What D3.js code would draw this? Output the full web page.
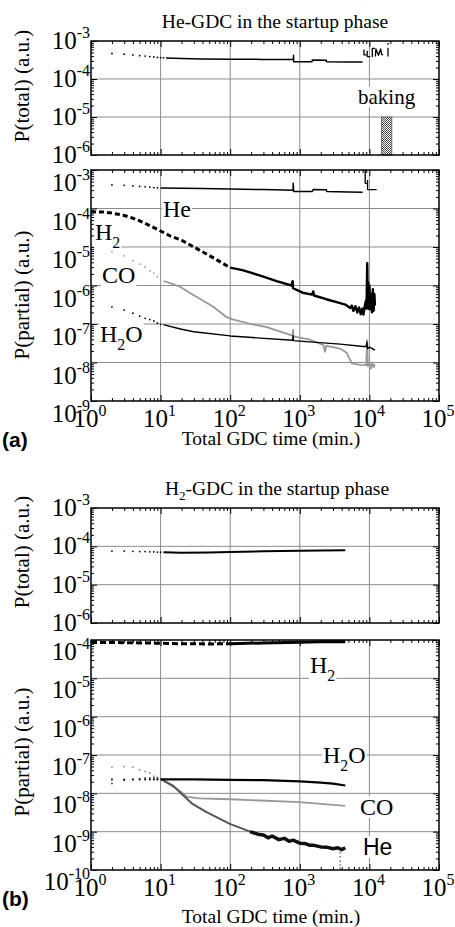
<!DOCTYPE html>
<html>
<head>
<meta charset="utf-8">
<script src="https://cdn.jsdelivr.net/npm/d3@7"></script>
<style>
body{margin:0;background:#fff}
svg{display:block}
</style>
</head>
<body>
<script>
// ---- data (time in min., pressure in a.u.) ----
var xTicks = [1e0, 1e1, 1e2, 1e3, 1e4, 1e5];
var yTicksTotal = [1e-6, 1e-5, 1e-4, 1e-3];
var yTicksA = [1e-9, 1e-8, 1e-7, 1e-6, 1e-5, 1e-4, 1e-3];
var yTicksB = [1e-10, 1e-9, 1e-8, 1e-7, 1e-6, 1e-5, 1e-4];

// (a) He-GDC, total
var aTotalDots = [[2,4.7e-4],[3,4.5e-4],[4,4.3e-4],[5,4.1e-4],[6,4.0e-4],[7,3.9e-4],[8,3.8e-4],[9,3.7e-4],[10,3.65e-4],[11,3.6e-4]];
var aTotalLine = [[12,3.55e-4],[20,3.45e-4],[40,3.35e-4],[100,3.3e-4],[300,3.28e-4],[810,3.25e-4],[812,4.2e-4],[818,2.85e-4],[1500,2.85e-4],[1510,3.15e-4],[2400,3.1e-4],[2410,2.85e-4],[5000,2.8e-4],[8000,2.8e-4]];
var aTotalBursts = [
  [[8360,6.0e-4],[8360,4.3e-4],[9100,4.3e-4]],
  [[9300,5.5e-4],[9300,3.9e-4],[10300,3.9e-4]],
  [[11200,3.9e-4],[11000,3.9e-4],[11000,6.4e-4],[12000,6.4e-4]],
  [[12200,3.9e-4],[12400,6.2e-4],[13500,4.2e-4],[14500,6.2e-4],[15000,4.4e-4],[15700,4.4e-4]],
  [[18500,6.6e-4],[18500,3.9e-4]],
  [[18500,8.8e-4],[18500,8.0e-4]]
];
var baking = [15000, 21000];

// (a) He-GDC, partial
var aHeDots = [[2,4.1e-4],[3,4.0e-4],[4,3.85e-4],[5,3.75e-4],[6,3.65e-4],[7,3.6e-4],[8,3.5e-4],[9,3.45e-4]];
var aHeLine = [[10,3.4e-4],[40,3.3e-4],[100,3.2e-4],[300,3.1e-4],[800,3.0e-4],[805,4.5e-4],[815,2.75e-4],[1500,2.75e-4],[1560,3.1e-4],[2400,3.05e-4],[2450,2.75e-4],[5000,2.7e-4],[8000,2.65e-4]];
var aHeBursts = [
  [[8700,1.0e-3],[8700,4.5e-4],[9400,4.5e-4]],
  [[9400,5.5e-4],[9400,3.1e-4],[12700,3.1e-4]]
];
var aH2 = [[1,8.2e-5],[1.5,8.1e-5],[2,7.6e-5],[3,6.6e-5],[4,5.6e-5],[5,4.8e-5],[7,3.6e-5],[10,2.6e-5],[14,1.9e-5],[20,1.5e-5],[30,1.0e-5],[40,7.5e-6],[60,5.0e-6],[100,2.9e-6],
  [150,2.5e-6],[270,1.8e-6],[465,1.3e-6],[760,1.0e-6],[790,1.3e-6],[800,8.5e-7],[1100,6.5e-7],[1500,5.8e-7],[1560,7.0e-7],[1600,5.5e-7],[2400,4.4e-7],[3800,3.5e-7],[4500,3.2e-7],[5300,2.6e-7],
  [5600,3.0e-7],[5900,2.2e-7],[6300,2.9e-7],[6700,2.0e-7],[7100,2.7e-7],[7500,1.8e-7],[7900,2.5e-7],[8200,1.75e-7],[8600,3.0e-7],[8900,4.0e-7],[9100,2.5e-7],[9300,3.8e-6],[9450,5.0e-7],
  [9600,1.2e-6],[9800,2.5e-7],[10000,1.0e-6],[10300,2.4e-7],[10600,6.0e-7],[10900,2.0e-7],[11200,8.0e-7],[11500,2.2e-7],[11800,6.0e-7],[12000,3.0e-7]];
var aCODots = [[2,7.6e-6],[3,5.9e-6],[4,4.4e-6],[5,3.6e-6],[6,3.0e-6],[7,2.4e-6],[8,2.1e-6],[9,1.7e-6],[10,1.4e-6]];
var aCOLine = [[11,1.3e-6],[12,1.25e-6],[19,9.3e-7],[30,5.6e-7],[57,2.8e-7],[89,1.5e-7],[111,1.3e-7],[200,1.0e-7],[335,8.3e-8],[790,5.0e-8],[800,7.0e-8],[810,4.8e-8],[1400,3.9e-8],
  [2200,2.8e-8],[2300,1.9e-8],[2400,2.7e-8],[3800,2.3e-8],[4700,1.8e-8],[5600,9.5e-9],[7300,8.7e-9],[9000,8.5e-9],[9300,3.8e-8],[9500,8.0e-9],[10000,1.0e-8],[10500,7.0e-9],[11000,1.0e-8],[11500,7.5e-9],[12000,9.0e-9]];
var aH2ODots = [[2,2.8e-7],[3,2.3e-7],[4,1.9e-7],[5,1.6e-7],[6,1.4e-7],[7,1.3e-7],[8,1.2e-7],[9,1.05e-7],[10,9.8e-8]];
var aH2OLine = [[11,9.6e-8],[12,9.2e-8],[20,7.3e-8],[30,6.3e-8],[100,4.9e-8],[270,4.3e-8],[790,3.8e-8],[800,5.0e-8],[810,3.7e-8],[1000,3.6e-8],[3800,3.0e-8],[8200,2.6e-8],[9000,2.6e-8],[9200,3.4e-8],[9400,2.3e-8],[10000,2.5e-8],[11000,2.3e-8],[12000,2.1e-8]];

// (b) H2-GDC, total
var bTotalDots = [[2,7.5e-5],[3,7.5e-5],[4,7.4e-5],[5,7.3e-5],[6,7.3e-5],[7,7.2e-5],[8,7.2e-5],[9,7.1e-5],[10,7.0e-5]];
var bTotalLine = [[11,7.0e-5],[20,6.8e-5],[50,6.9e-5],[100,7.1e-5],[300,7.4e-5],[1000,7.7e-5],[2000,7.8e-5],[4500,7.9e-5]];

// (b) H2-GDC, partial
var bH2 = [[1,8.6e-5],[2,8.6e-5],[5,8.4e-5],[10,8.2e-5],[20,8.0e-5],[50,7.9e-5],[100,8.0e-5],[300,8.4e-5],[1000,8.8e-5],[2000,9.0e-5],[4500,9.0e-5]];
var bH2ODots = [[2,2.3e-8],[3,2.3e-8],[4,2.3e-8],[5,2.3e-8],[6,2.3e-8],[7,2.3e-8],[8,2.3e-8],[9,2.3e-8]];
var bH2OLine = [[10,2.3e-8],[30,2.3e-8],[100,2.25e-8],[300,2.2e-8],[1000,2.05e-8],[2000,1.9e-8],[3000,1.8e-8],[4500,1.6e-8]];
var bCODots = [[2,4.8e-8],[3,5.0e-8],[4,4.8e-8],[5,4.1e-8],[6,3.7e-8],[7,3.4e-8],[8,2.8e-8],[9,2.6e-8],[10,2.3e-8]];
var bCOLine = [[11,2.1e-8],[15,1.5e-8],[19.6,1.1e-8],[24,8.1e-9],[36,7.4e-9],[100,7.0e-9],[1000,5.9e-9],[4500,4.7e-9]];
var bHeDots = [[2,1.8e-8],[3,2.2e-8],[4,2.3e-8],[5,2.4e-8],[6,2.5e-8],[7,2.5e-8],[8,2.5e-8],[9,2.5e-8]];
var bHeLine = [[10,2.4e-8],[15,1.6e-8],[19.6,1.0e-8],[28,5.5e-9],[45,3.3e-9],[99,1.6e-9],[193,1.0e-9]];
var bHeBand = [[193,1.0e-9],[250,8.6e-10],[300,8.2e-10],[350,6.9e-10],[400,7.7e-10],[500,6.2e-10],[600,6.7e-10],[700,5.6e-10],[800,6.0e-10],[1000,5.0e-10],
  [1200,4.9e-10],[1400,4.4e-10],[1600,4.4e-10],[2000,4.0e-10],[2500,3.9e-10],[3000,3.6e-10],[3500,3.8e-10],[4000,3.4e-10],[4500,3.8e-10]];
var bHeTail = [[3800,2.8e-10],[3800,2.2e-10],[3800,1.7e-10],[3800,1.35e-10],[3800,1.1e-10]];

// ---- drawing ----
var serif = "'Liberation Serif','Times New Roman',serif";
var sans = "'Liberation Sans',Arial,sans-serif";
var gray = "#999";

var svg = d3.select("body").append("svg").attr("width", 455).attr("height", 927);

var xL = 91, xR = 439;
var x = d3.scaleLog().domain([1, 1e5]).range([xL, xR]);

function isMajor(v) { return Math.abs(Math.log10(v) - Math.round(Math.log10(v))) < 1e-6; }
function expo(v) { return Math.round(Math.log10(v)); }

function tenLabel(sel, v) {
  sel.append("tspan").text("10");
  sel.append("tspan").attr("dy", -11).attr("font-size", 16).text(expo(v));
}

function panel(top, bottom, dom, ticks, shift, xlab) {
  var y = d3.scaleLog().domain(dom).range([bottom, top]);
  var g = svg.append("g");

  // grid
  g.selectAll("line.gx").data(xTicks.slice(1, -1)).enter().append("line")
    .attr("x1", function(d){ return x(d); }).attr("x2", function(d){ return x(d); })
    .attr("y1", top).attr("y2", bottom)
    .attr("stroke", "#8c8c8c").attr("stroke-width", 1);
  g.selectAll("line.gy").data(ticks.slice(1, -1)).enter().append("line")
    .attr("x1", xL).attr("x2", xR)
    .attr("y1", function(d){ return y(d); }).attr("y2", function(d){ return y(d); })
    .attr("stroke", "#8c8c8c").attr("stroke-width", 1);

  // inward ticks on all four sides
  var xMin = x.ticks().filter(function(d){ return !isMajor(d); });
  var yMin = y.ticks().filter(function(d){ return !isMajor(d); });
  function ax(axis, tr) {
    g.append("g").attr("transform", tr).call(axis.tickFormat("").tickSizeOuter(0))
      .call(function(s){ s.select(".domain").remove(); s.selectAll("line").attr("stroke-width", 1); });
  }
  ax(d3.axisBottom(x).tickValues(xMin).tickSizeInner(-3), "translate(0," + bottom + ")");
  ax(d3.axisBottom(x).tickValues(xTicks).tickSizeInner(-6), "translate(0," + bottom + ")");
  ax(d3.axisTop(x).tickValues(xMin).tickSizeInner(-3), "translate(0," + top + ")");
  ax(d3.axisTop(x).tickValues(xTicks).tickSizeInner(-6), "translate(0," + top + ")");
  ax(d3.axisLeft(y).tickValues(yMin).tickSizeInner(-3), "translate(" + xL + ",0)");
  ax(d3.axisLeft(y).tickValues(ticks).tickSizeInner(-6), "translate(" + xL + ",0)");
  ax(d3.axisRight(y).tickValues(yMin).tickSizeInner(-3), "translate(" + xR + ",0)");
  ax(d3.axisRight(y).tickValues(ticks).tickSizeInner(-6), "translate(" + xR + ",0)");

  // y tick labels
  g.selectAll("text.yl").data(ticks).enter().append("text")
    .attr("x", 90).attr("y", function(d){ return y(d) + shift + 8; })
    .attr("text-anchor", "end").attr("font-family", serif).attr("font-size", 25)
    .each(function(d){ tenLabel(d3.select(this), d); });

  if (xlab) {
    g.selectAll("text.xl").data(xTicks).enter().append("text")
      .attr("x", function(d){ return x(d) - 1; }).attr("y", bottom + 26)
      .attr("text-anchor", "middle").attr("font-family", serif).attr("font-size", 25)
      .each(function(d){ tenLabel(d3.select(this), d); });
  }

  var layer = g.append("g");
  g.append("rect").attr("x", xL).attr("y", top).attr("width", xR - xL).attr("height", bottom - top)
    .attr("fill", "none").attr("stroke", "#000").attr("stroke-width", 1.5);
  return { y: y, g: g, layer: layer };
}

function line(p, data, color, w, dash) {
  var gen = d3.line().x(function(d){ return x(d[0]); }).y(function(d){ return p.y(d[1]); });
  p.layer.append("path").datum(data).attr("d", gen)
    .attr("fill", "none").attr("stroke", color).attr("stroke-width", w)
    .attr("stroke-linejoin", "round")
    .attr("stroke-dasharray", dash || null);
}
function dots(p, data, color, r) {
  p.layer.selectAll(null).data(data).enter().append("circle")
    .attr("cx", function(d){ return x(d[0]); }).attr("cy", function(d){ return p.y(d[1]); })
    .attr("r", r || 0.9).attr("fill", color);
}

// label with white box behind it; parts: [text, isSub]
function label(p, px, py, parts, size, font) {
  var t = p.g.append("text").attr("x", px).attr("y", py)
    .attr("font-family", font || serif).attr("font-size", size);
  var down = 0;
  parts.forEach(function(q){
    var s = t.append("tspan").text(q[0]);
    if (q[1]) { s.attr("dy", 8).attr("font-size", size * 0.66); down = 8; }
    else if (down) { s.attr("dy", -down); down = 0; }
  });
  var b = t.node().getBBox();
  p.g.insert("rect", function(){ return t.node(); })
    .attr("x", b.x - 1).attr("y", b.y + 2).attr("width", b.width + 2).attr("height", b.height - 4)
    .attr("fill", "#fff");
}

function yTitle(txt, cy) {
  svg.append("text").attr("transform", "translate(29," + cy + ") rotate(-90)")
    .attr("text-anchor", "middle").attr("font-family", serif).attr("font-size", 21).text(txt);
}

// ----- (a) -----
svg.append("text").attr("x", 275).attr("y", 28).attr("text-anchor", "middle")
  .attr("font-family", serif).attr("font-size", 19.5).text("He-GDC in the startup phase");

var pa1 = panel(41, 155, [1e-6, 1e-3], yTicksTotal, 0, false);
// baking box
var defs = svg.append("defs");
var pat = defs.append("pattern").attr("id", "hatch").attr("patternUnits", "userSpaceOnUse")
  .attr("width", 2).attr("height", 2);
pat.append("rect").attr("width", 2).attr("height", 2).attr("fill", "#fff");
pat.append("rect").attr("width", 1).attr("height", 1).attr("fill", "#444");
pat.append("rect").attr("x", 1).attr("y", 1).attr("width", 1).attr("height", 1).attr("fill", "#444");
label(pa1, 358, 104, [["baking"]], 21);
pa1.layer.append("rect").attr("x", x(baking[0])).attr("y", pa1.y(1e-5))
  .attr("width", x(baking[1]) - x(baking[0])).attr("height", pa1.y(1e-6) - pa1.y(1e-5))
  .attr("fill", "url(#hatch)").attr("stroke", "#555").attr("stroke-width", 0.8);
dots(pa1, aTotalDots, "#000");
line(pa1, aTotalLine, "#000", 1.5);
aTotalBursts.forEach(function(s){ line(pa1, s, "#000", 1.3); });

var pa2 = panel(170, 401, [1e-9, 1e-3], yTicksA, 13, true);
label(pa2, 163, 217, [["He"]], 24);
label(pa2, 95, 240, [["H"], ["2", true]], 24);
label(pa2, 102, 283, [["CO"]], 24);
label(pa2, 100, 342, [["H"], ["2", true], ["O"]], 24);
dots(pa2, aHeDots, "#000");
line(pa2, aHeLine, "#000", 1.5);
aHeBursts.forEach(function(s){ line(pa2, s, "#000", 1.3); });
dots(pa2, aCODots, gray, 0.9);
line(pa2, aCOLine, gray, 1.8);
dots(pa2, aH2ODots, "#000");
line(pa2, aH2OLine, "#000", 1.4);
line(pa2, aH2.filter(function(d){ return d[0] <= 100; }), "#000", 3, "5,3");
line(pa2, aH2.filter(function(d){ return d[0] >= 100; }), "#000", 2.4);

yTitle("P(total) (a.u.)", 86);
yTitle("P(partial) (a.u.)", 295);
svg.append("text").attr("x", 271).attr("y", 445).attr("text-anchor", "middle")
  .attr("font-family", serif).attr("font-size", 19.5).text("Total GDC time (min.)");
svg.append("text").attr("x", 2).attr("y", 447).attr("font-family", sans)
  .attr("font-weight", "bold").attr("font-size", 21).text("(a)");

// ----- (b) -----
var tb = svg.append("text").attr("x", 277).attr("y", 495).attr("text-anchor", "middle")
  .attr("font-family", serif).attr("font-size", 19.5);
tb.append("tspan").text("H");
tb.append("tspan").attr("dy", 5).attr("font-size", 13).text("2");
tb.append("tspan").attr("dy", -5).text("-GDC in the startup phase");

var pb1 = panel(508, 623, [1e-6, 1e-3], yTicksTotal, 0, false);
dots(pb1, bTotalDots, "#000");
line(pb1, bTotalLine, "#000", 2);

var pb2 = panel(640, 870, [1e-10, 1e-4], yTicksB, 12, true);
label(pb2, 310, 673, [["H"], ["2", true]], 24);
label(pb2, 323, 763, [["H"], ["2", true], ["O"]], 24);
label(pb2, 360, 815, [["CO"]], 24);
label(pb2, 363, 855, [["He"]], 23, sans);
line(pb2, bH2.filter(function(d){ return d[0] <= 100; }), "#000", 3, "6,3");
line(pb2, bH2.filter(function(d){ return d[0] >= 100; }), "#000", 3);
dots(pb2, bCODots, gray, 1);
line(pb2, bCOLine, gray, 1.8);
dots(pb2, bHeDots, "#555", 1);
line(pb2, bHeLine, "#555", 2);
line(pb2, bHeBand, "#111", 3.5);
dots(pb2, bHeTail, "#555", 0.8);
dots(pb2, bH2ODots, "#000", 1);
line(pb2, bH2OLine, "#000", 2.2);

yTitle("P(total) (a.u.)", 552);
yTitle("P(partial) (a.u.)", 752);
svg.append("text").attr("x", 271).attr("y", 923).attr("text-anchor", "middle")
  .attr("font-family", serif).attr("font-size", 19.5).text("Total GDC time (min.)");
svg.append("text").attr("x", 2).attr("y", 906).attr("font-family", sans)
  .attr("font-weight", "bold").attr("font-size", 21).text("(b)");
</script>
</body>
</html>
